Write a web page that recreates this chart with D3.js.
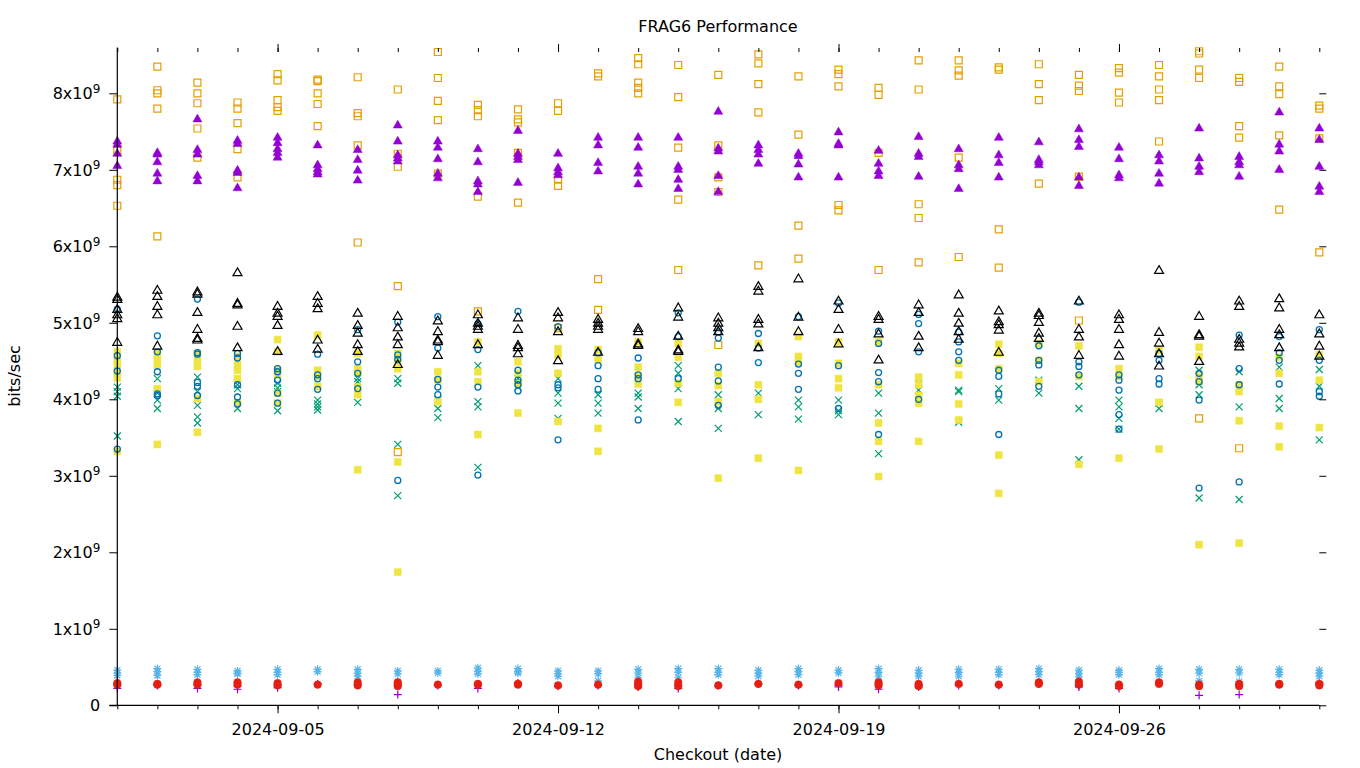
<!DOCTYPE html>
<html>
<head>
<meta charset="utf-8">
<script src="https://cdn.jsdelivr.net/npm/d3@7"></script>
<style>
  html, body { margin: 0; padding: 0; background: #fff; }
  svg { display: block; font-family: "DejaVu Sans", sans-serif; }
</style>
</head>
<body>
<svg id="chart" width="1360" height="768"></svg>
<script>
// ---------- DATA (values in units of 1e9 bits/sec) ----------
const startDate = "2024-09-01";
const endDate = "2024-10-01";
const dayCount = 31; // 2024-09-01 .. 2024-10-01
const majorTickLabels = ["2024-09-05", "2024-09-12", "2024-09-19", "2024-09-26"];
const yTickValues = [0, 1, 2, 3, 4, 5, 6, 7, 8];

// series 1: purple plus
const seriesPlus = [
  [0.26,0.22],[0.26],[0.27,0.22],[0.25,0.21],[0.26,0.23],[0.28],[0.27],[0.27,0.14],[0.26],[0.27,0.22],
  [0.29],[0.25],[0.26],[0.28,0.24],[0.27,0.22],[0.26],[0.28],[0.26],[0.26,0.24],[0.28,0.21],
  [0.27,0.24],[0.26],[0.26],[0.28],[0.26,0.24],[0.27,0.22],[0.29],[0.27,0.13],[0.27,0.14],[0.28],[0.28,0.30]
];
// series 2: green cross
const seriesCross = [
  [4.16,4.10,4.04,3.52],[4.27,4.08,3.99,3.88],[4.29,4.10,3.92,3.77,3.69],[4.19,4.14,3.88],[4.21,4.15,4.10,3.85],
  [3.99,3.94,3.90,3.86],[4.27,4.23,3.96],[4.27,4.21,3.41,2.74],[4.00,3.88,3.76],[4.44,3.97,3.90,3.11],
  [4.27,4.21,4.16],[4.27,4.08,3.95,3.75],[4.06,3.95,3.82],[4.08,4.03,3.88],[4.44,4.34,4.14,3.71],
  [4.06,3.88,3.62],[4.08,3.80],[3.99,3.90,3.74],[3.99,3.85,3.80],[4.08,3.82,3.29],
  [4.21,4.12],[4.12,4.10,3.70],[4.14,3.99],[4.25,4.08],[4.17,3.88,3.21],
  [3.99,3.90,3.75,3.61],[3.95,3.88],[4.38,4.19,4.06,2.71],[4.36,3.90,2.69],[4.42,4.01,3.88],[4.39,4.17,3.47]
];
// series 3: light blue star
const seriesStar = [
  [0.46,0.42,0.39],[0.48,0.44,0.39],[0.47,0.43,0.40],[0.45,0.42,0.41],[0.47,0.43,0.40],
  [0.47,0.44],[0.47,0.42,0.38],[0.45,0.41,0.31],[0.45,0.42],[0.49,0.44,0.41],
  [0.48,0.44,0.42],[0.45,0.41,0.38],[0.45,0.41,0.32],[0.47,0.42,0.36],[0.48,0.43,0.36],
  [0.48,0.43,0.40],[0.46,0.42,0.38],[0.48,0.44,0.40],[0.46,0.42],[0.48,0.43,0.38],
  [0.46,0.42,0.38],[0.47,0.43,0.38],[0.47,0.43,0.40],[0.48,0.44,0.40],[0.46,0.41,0.37],
  [0.46,0.43,0.40],[0.48,0.43,0.40],[0.47,0.42,0.32],[0.47,0.42,0.31],[0.47,0.43,0.40],[0.46,0.42,0.38]
];
// series 4: orange open square
const seriesOpenSquare = [
  [7.92,7.25,6.87,6.80,6.53],[8.35,8.04,8.00,7.80,6.13],[8.14,8.00,7.87,7.54,7.16],[7.88,7.80,7.61,7.27,6.90],
  [8.25,8.17,7.91,7.82,7.77],[8.18,8.16,8.00,7.86,7.57],[8.21,7.74,7.70,7.32,6.05],[8.05,7.21,7.04,5.48,3.31],
  [8.54,8.20,7.90,7.65,6.95],[7.85,7.78,7.70,6.65,5.15],[7.79,7.66,7.62,7.22,6.57],[7.87,7.77,6.87,6.79,4.93],
  [8.26,8.22,5.57,5.17],[8.46,8.38,8.14,8.07,8.00],[8.37,7.95,7.29,6.61,5.69],[8.24,7.32,6.90,6.71,4.71],
  [8.51,8.39,8.12,7.75,5.75],[8.22,7.46,6.27,5.84],[8.31,8.25,8.09,6.54,6.47],[8.07,7.98,7.22,5.69],
  [8.43,8.05,6.55,6.37,5.79],[8.43,8.30,8.23,7.16,5.86],[8.34,8.31,6.22,5.72],[8.38,8.12,7.91,6.82],
  [8.24,8.10,8.03,6.91,5.03],[8.33,8.27,8.01,7.88],[8.37,8.22,8.05,7.91,7.37],[8.55,8.52,8.31,8.20,3.75],
  [8.20,8.15,7.57,7.42,3.36],[8.35,8.09,7.99,7.45,6.48],[7.84,7.80,7.41,5.92]
];
// series 5: yellow filled square
const seriesFilledSquare = [
  [4.62,4.52,4.45,4.35,4.28,3.32],[4.60,4.52,4.45,4.14,3.41],[4.60,4.50,4.43,4.01,3.57],[4.56,4.45,4.38,4.27,3.95],
  [4.78,4.62,4.38,4.32,4.08,3.95],[4.84,4.38,4.30,4.17],[4.60,4.40,4.35,4.16,4.06,3.08],[4.60,4.50,4.40,3.18,1.74],
  [4.36,4.25,3.97],[4.75,4.36,4.23,3.54],[4.49,4.34,4.20,3.82],[4.66,4.58,4.34,3.71],
  [4.65,4.52,3.62,3.32],[4.75,4.42,4.30,4.20],[4.73,4.55,4.21,3.96],[4.34,4.18,3.97,2.97],
  [4.73,4.19,4.00,3.23],[4.82,4.56,4.47,3.07],[4.75,4.47,4.27,4.15],[4.75,4.19,3.69,3.45,2.99],
  [4.29,4.19,4.05,3.95,3.45],[4.47,4.32,3.94,3.73],[4.72,4.60,4.40,3.27,2.77],[4.73,4.51,4.23],
  [4.70,4.30,3.15],[4.40,4.30,3.23],[4.64,3.96,3.35],[4.68,4.56,4.30,4.23,2.10],
  [4.19,4.10,3.72,2.12],[4.55,4.34,3.65,3.38],[4.58,4.25,3.63]
];
// series 6: blue open circle
const seriesOpenCircle = [
  [5.18,4.57,4.37,3.35],[4.83,4.62,4.36,4.07,4.05],[5.31,4.61,4.59,4.22,4.17,4.05],[4.60,4.54,4.19,4.03,3.94],
  [4.40,4.36,4.25,4.08,3.95],[4.59,4.32,4.27,4.13],[4.91,4.49,4.34,4.14],[5.01,4.58,4.52,2.94],
  [5.08,4.67,4.26,4.16,4.06],[4.99,4.65,4.16,3.01],[5.15,4.38,4.25,4.19,4.11],[4.95,4.19,4.15,3.47],
  [4.61,4.44,4.27,4.13],[4.54,4.32,4.27,3.73],[5.13,4.82,4.27],[4.88,4.80,4.42,4.24,3.92],
  [4.86,4.67,4.48],[5.08,4.46,4.34,4.13],[5.26,4.44,3.88],[4.89,4.73,4.35,4.23,3.54],
  [5.11,4.99,4.62,4.00],[4.88,4.75,4.62,4.51],[4.38,4.30,4.07,3.54],[4.70,4.51,4.45,4.17],
  [5.27,4.49,4.43,4.32],[4.32,4.25,4.12,3.80,3.61],[4.60,4.51,4.27,4.20],[4.34,4.23,3.99,2.84],
  [4.84,4.40,4.19,2.92],[4.82,4.61,4.51,4.20],[4.91,4.51,4.10,4.04]
];
// series 7: red filled circle
const seriesFilledCircle = [
  [0.29,0.27],[0.28,0.27],[0.30,0.27],[0.30,0.27],[0.29,0.26],[0.27],[0.30,0.26],[0.30,0.27,0.25],
  [0.27],[0.28,0.27],[0.28,0.27],[0.26],[0.27],[0.31,0.28,0.25],[0.30,0.25],[0.26],[0.28],[0.27],
  [0.29],[0.30,0.26],[0.28,0.25],[0.28],[0.27],[0.30,0.28],[0.31,0.27],[0.27,0.25],[0.30,0.28],
  [0.27,0.25],[0.28,0.25],[0.28,0.27],[0.28,0.26]
];
// series 8: black open triangle
const seriesOpenTriangle = [
  [5.33,5.30,5.17,5.10,5.05,4.74],[5.42,5.34,5.21,5.10,4.69],[5.40,5.37,5.13,4.91,4.79,4.77],[5.65,5.25,5.23,4.95,4.67],
  [5.21,5.12,5.08,4.96,4.62],[5.34,5.25,5.18,4.77,4.65],[5.12,4.96,4.86,4.71,4.62],[5.08,4.93,4.81,4.71,4.45],
  [5.02,4.88,4.77,4.75,4.57],[5.10,4.99,4.95,4.91,4.71],[5.06,4.91,4.70,4.67,4.59],[5.13,5.06,4.88,4.50],
  [5.04,4.99,4.95,4.91,4.61],[4.92,4.88,4.72,4.70],[5.19,5.07,4.82,4.64,4.62],[5.06,4.99,4.93,4.88],
  [5.47,5.41,5.04,4.98,4.67],[5.57,5.07,4.88],[5.28,5.17,4.91,4.72],[5.08,5.04,4.85,4.51],
  [5.23,5.13,4.82,4.67],[5.36,5.12,4.99,4.88,4.78],[5.15,5.01,4.97,4.90,4.61],[5.12,5.09,5.00,4.86,4.79],
  [5.28,4.91,4.81,4.57],[5.10,5.04,4.91,4.71,4.56],[5.68,4.87,4.73,4.59,4.43],[5.08,4.84,4.82,4.49],
  [5.28,5.21,4.78,4.73,4.68],[5.31,5.19,4.91,4.84,4.67],[5.10,4.85,4.69,4.56]
];
// series 9: purple filled triangle
const seriesFilledTriangle = [
  [7.37,7.33,7.21,7.05],[7.22,7.20,7.10,6.95,6.85],[7.66,7.26,7.20,6.92,6.85],[7.38,7.34,6.99,6.96,6.76],
  [7.42,7.35,7.27,7.22,7.16],[7.32,7.06,7.01,6.97,6.94],[7.26,7.13,6.99,6.86],[7.58,7.37,7.19,7.15,7.11],
  [7.37,7.29,7.14,6.95,6.89],[7.27,7.10,6.85,6.81,6.71],[7.51,7.21,7.17,7.13,6.83],[7.21,7.02,6.97,6.93],
  [7.42,7.32,7.09,6.98],[7.42,7.29,7.04,6.95,6.81],[7.42,7.04,7.00,6.87,6.75],[7.76,7.28,7.24,6.92,6.71],
  [7.32,7.26,7.20,7.08],[7.21,7.18,7.07,6.90],[7.49,7.34,7.32,6.90],[7.25,7.08,6.98,6.92],
  [7.43,7.21,7.17,6.91],[7.27,7.06,7.01,6.75],[7.42,7.19,7.09,6.90],[7.36,7.13,7.10,7.06],
  [7.53,7.39,7.30,6.90,6.79],[7.29,7.14,6.93,6.89],[7.19,7.11,6.95,6.82],[7.54,7.15,7.04,6.97],
  [7.17,7.10,7.06,6.91],[7.75,7.33,7.24,7.00],[7.54,7.39,7.04,6.78,6.71]
];

const seriesList = [
  { data: seriesPlus,           shape: "plus",      color: "#9400d3" },
  { data: seriesCross,          shape: "cross",     color: "#009e73" },
  { data: seriesStar,           shape: "star",      color: "#56b4e9" },
  { data: seriesOpenSquare,     shape: "osquare",   color: "#e69f00" },
  { data: seriesFilledSquare,   shape: "fsquare",   color: "#f0e442" },
  { data: seriesOpenCircle,     shape: "ocircle",   color: "#0072b2" },
  { data: seriesFilledCircle,   shape: "fcircle",   color: "#e51e10" },
  { data: seriesOpenTriangle,   shape: "otriangle", color: "#000000" },
  { data: seriesFilledTriangle, shape: "ftriangle", color: "#9400d3" }
];

(function draw() {
  // ---------- LAYOUT ----------
  const svg = d3.select("#chart");
  const pLeft = 117.3, pRight = 1319.3, pBottom = 705.3, pTop = 47.4;
  const parse = d3.utcParse("%Y-%m-%d");
  const x = d3.scaleUtc().domain([parse(startDate), parse(endDate)]).range([pLeft, pRight]);
  const y = d3.scaleLinear().domain([0, 8.6e9]).range([pBottom, pTop]);

  const days = d3.range(dayCount).map(i => d3.utcDay.offset(parse(startDate), i));
  const majors = majorTickLabels.map(parse);

  // ---------- POINTS ----------
  function markerPath(shape, cx, cy) {
    switch (shape) {
      case "plus": return `M${cx-4},${cy}H${cx+4}M${cx},${cy-4}V${cy+4}`;
      case "cross": return `M${cx-3.5},${cy-3.5}L${cx+3.5},${cy+3.5}M${cx-3.5},${cy+3.5}L${cx+3.5},${cy-3.5}`;
      case "star": return `M${cx-4},${cy}H${cx+4}M${cx},${cy-4}V${cy+4}M${cx-3},${cy-3}L${cx+3},${cy+3}M${cx-3},${cy+3}L${cx+3},${cy-3}`;
      case "osquare": case "fsquare": return `M${cx-3.5},${cy-3.5}h7v7h-7Z`;
      case "otriangle": case "ftriangle": return `M${cx},${cy-5.2}L${cx+4.5},${cy+2.6}L${cx-4.5},${cy+2.6}Z`;
    }
    return "";
  }

  const gPts = svg.append("g");
  seriesList.forEach(s => {
    const pts = [];
    s.data.forEach((vals, di) => vals.forEach(v => pts.push({ d: days[di], v: v * 1e9 })));
    const g = gPts.append("g");
    const filled = s.shape.startsWith("f");
    if (s.shape === "ocircle" || s.shape === "fcircle") {
      g.selectAll("circle").data(pts).join("circle")
        .attr("cx", p => x(p.d)).attr("cy", p => y(p.v))
        .attr("r", filled ? 3.8 : 3)
        .attr("fill", filled ? s.color : "none")
        .attr("stroke", s.color).attr("stroke-width", filled ? 0.5 : 1.3);
    } else {
      g.selectAll("path").data(pts).join("path")
        .attr("d", p => markerPath(s.shape, x(p.d), y(p.v)))
        .attr("fill", filled ? s.color : "none")
        .attr("stroke", s.color)
        .attr("stroke-width", filled ? 0.5 : 1.2);
    }
  });

  // ---------- AXES ----------
  const axisColor = "#000";
  svg.append("g").attr("transform", `translate(0,${pBottom})`)
    .call(d3.axisBottom(x).tickValues(days).tickSize(4).tickFormat(""));
  svg.append("g").attr("transform", `translate(0,${pBottom})`)
    .call(d3.axisBottom(x).tickValues(majors).tickSize(8).tickPadding(10).tickFormat(d3.utcFormat("%Y-%m-%d")));
  svg.append("g").attr("transform", `translate(0,52)`)
    .call(d3.axisTop(x).tickValues(days).tickSize(4).tickFormat(""));
  svg.append("g").attr("transform", `translate(0,52)`)
    .call(d3.axisTop(x).tickValues(majors).tickSize(8).tickFormat(""));
  const yAxis = svg.append("g").attr("transform", `translate(${pLeft},0)`)
    .call(d3.axisLeft(y).tickValues(yTickValues.map(v => v * 1e9)).tickSize(8).tickFormat(""));
  svg.append("g").attr("transform", `translate(${pRight},0)`)
    .call(d3.axisRight(y).tickValues(yTickValues.map(v => v * 1e9)).tickSize(7).tickFormat(""));

  svg.selectAll(".domain").remove();
  svg.selectAll(".tick line").attr("stroke", axisColor).attr("stroke-width", 1);
  svg.selectAll(".tick text").attr("font-family", "DejaVu Sans, sans-serif").attr("font-size", 16).attr("fill", "#000");

  svg.append("line").attr("x1", pLeft).attr("x2", pLeft).attr("y1", pTop).attr("y2", pBottom + 0.5)
    .attr("stroke", axisColor).attr("stroke-width", 1.2);
  svg.append("line").attr("x1", pLeft - 8).attr("x2", pRight).attr("y1", pBottom).attr("y2", pBottom)
    .attr("stroke", axisColor).attr("stroke-width", 1.2);

  yAxis.selectAll(".tick").each(function(d) {
    const v = d / 1e9;
    const t = d3.select(this).append("text")
      .attr("x", -17).attr("dy", "0.35em")
      .attr("text-anchor", "end")
      .attr("font-family", "DejaVu Sans, sans-serif").attr("font-size", 16).attr("fill", "#000");
    if (v === 0) {
      t.text("0");
    } else {
      t.append("tspan").text(v + "x10");
      t.append("tspan").attr("font-size", 12).attr("dy", "-0.55em").text("9");
    }
  });

  // ---------- TITLES ----------
  svg.append("text").attr("x", 718).attr("y", 32).attr("text-anchor", "middle")
    .attr("font-size", 16).attr("fill", "#000").text("FRAG6 Performance");
  svg.append("text").attr("x", 718).attr("y", 760).attr("text-anchor", "middle")
    .attr("font-size", 16).attr("fill", "#000").text("Checkout (date)");
  svg.append("text").attr("transform", "translate(20,376) rotate(-90)").attr("text-anchor", "middle")
    .attr("font-size", 16).attr("fill", "#000").text("bits/sec");
})();
</script>
</body>
</html>
